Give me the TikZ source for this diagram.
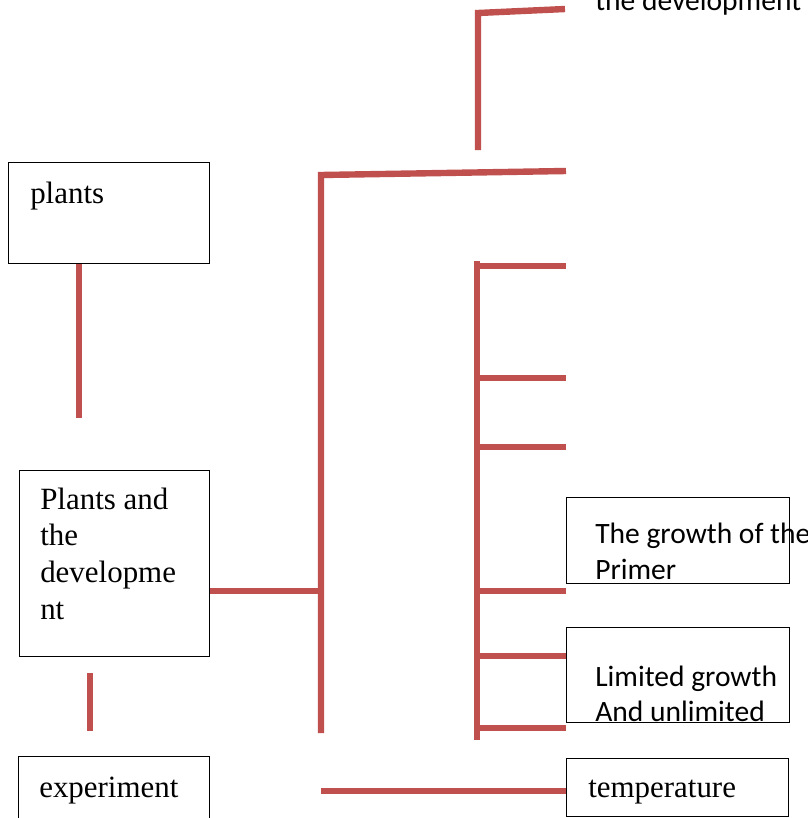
\documentclass[tikz,border=0pt]{standalone}
\usepackage{fontspec}
\setmainfont{Liberation Serif}
\setsansfont{Carlito}
\usetikzlibrary{positioning}
\definecolor{linkred}{RGB}{192,80,77}

\begin{document}
\begin{tikzpicture}[
    x=0.025cm, y=0.025cm,
    box/.style={rectangle, draw=black, line width=1pt, anchor=north west, inner sep=0pt},
    link/.style={draw=linkred, line width=0.16cm},
    serifnote/.style={font=\fontsize{22}{26}\selectfont, anchor=base west, inner sep=0pt, align=left},
    sansnote/.style={font=\sffamily\fontsize{21}{25}\selectfont, anchor=base west, inner sep=0pt, align=left}
]
\useasboundingbox (0,0) rectangle (808,-818);
\clip (0,0) rectangle (808,-818);

% Boxes
\node[box, minimum width=5.025cm, minimum height=2.525cm] (plants) at (8,-162) {};
\node[box, minimum width=4.75cm, minimum height=4.65cm] (plantsdev) at (19,-470) {};
\node[box, minimum width=4.775cm, minimum height=1.75cm] (experiment) at (18,-756) {};
\node[box, minimum width=5.575cm, minimum height=2.15cm] (growth) at (566,-497) {};
\node[box, minimum width=5.575cm, minimum height=2.375cm] (limited) at (566,-627) {};
\node[box, minimum width=5.55cm, minimum height=1.45cm] (temperature) at (566,-758) {};

% Texts (base = last line)
\node[serifnote] (plantstxt) at (30,-203) {plants};
\node[serifnote] (plantsdevtxt) at (40,-619) {Plants and\\the\\developme\\nt};
\node[serifnote] (experimenttxt) at (39,-797) {experiment};
\node[serifnote] (temperaturetxt) at (588,-797) {temperature};
\node[sansnote] (growthtxt) at (595,-579) {The growth of the\\Primer};
\node[sansnote, font=\sffamily\fontsize{21}{24.5}\selectfont] (limitedtxt) at (595,-721) {Limited growth\\And unlimited};
\node[sansnote] (toptxt) at (595,-10) {the development of};

% Junctions
\coordinate (plantsend) at (79,-418);
\coordinate (devstub1) at (90,-673);
\coordinate (devstub2) at (90,-731);
\coordinate (spinetop) at (321,-175);
\coordinate (spinemid) at (321,-591);
\coordinate (spinebot) at (321,-733);
\coordinate (topend) at (566,-171);
\coordinate (upstart) at (478,-150);
\coordinate (upcorner) at (478,-13);
\coordinate (upend) at (565,-9);
\coordinate (ribtop) at (477,-261);
\coordinate (ribbot) at (477,-740);
\coordinate (tempstart) at (321,-791);

% Links
\draw[link] (plants.south -| plantsend) -- (plantsend);
\draw[link] (devstub1) -- (devstub2);
\draw[link] (spinebot) -- (spinetop) -- (topend);
\draw[link] (plantsdev.east |- spinemid) -- (spinemid);
\draw[link] (upstart) -- (upcorner) -- (upend);
\draw[link] (ribtop) -- (ribbot);
\foreach \y in {266,378,447,591,656,728}
    \draw[link] (477,-\y) -- (566,-\y);
\draw[link] (tempstart) -- (tempstart -| temperature.west);

\end{tikzpicture}
\end{document}
